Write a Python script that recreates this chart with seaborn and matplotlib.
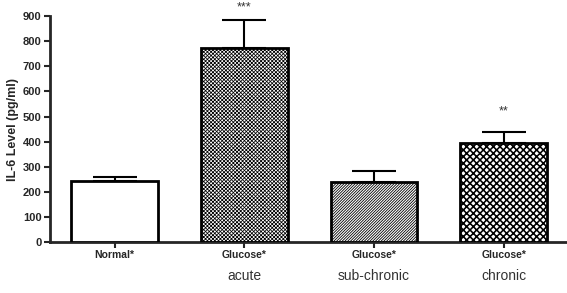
import pandas as pd
import seaborn as sns
import matplotlib.pyplot as plt
from matplotlib import transforms

groups = ["Normal*", "Glucose* ", "Glucose*  ", "Glucose*   "]
tick_labels = ["Normal*", "Glucose*", "Glucose*", "Glucose*"]
sub_labels = ["", "acute", "sub-chronic", "chronic"]
means = [243, 774, 239, 393]
errors = [16, 112, 45, 44]
stars = ["", "***", "", "**"]
hatches = ["", "x" * 9, "/" * 12, "xxxxx"]
hatch_widths = [1.0, 0.55, 0.6, 1.15]


def main():
    sns.set_style("ticks")
    plt.rcParams['font.family'] = ['Liberation Sans', 'DejaVu Sans']
    plt.rcParams['hatch.linewidth'] = 0.9

    df = pd.DataFrame({"group": groups, "mean": means})

    fig = plt.figure(figsize=(5.67, 2.93), dpi=100)
    ax = fig.add_axes([0.088, 0.174, 0.91, 0.771])

    sns.barplot(data=df, x="group", y="mean", color="white",
                edgecolor="black", linewidth=2, width=0.67,
                errorbar=None, ax=ax, zorder=3)
    for patch, h, hw in zip(ax.patches, hatches, hatch_widths):
        patch.set_facecolor("white")
        patch.set_hatch(h)
        if hasattr(patch, "set_hatch_linewidth"):
            patch.set_hatch_linewidth(hw)

    x = range(len(groups))
    ax.errorbar(x, means, yerr=[[0] * len(means), errors], fmt="none",
                ecolor="black", elinewidth=1.5, capsize=16, capthick=1.5,
                zorder=2)

    # significance stars above the error bars
    for i, s in enumerate(stars):
        if s:
            y = min(means[i] + errors[i] + 85, 935)
            ax.text(i, y, s, ha="center", va="center", fontsize=9,
                    color="#333333", clip_on=False)

    ax.set_xlim(-0.5, 3.48)
    ax.set_ylim(0, 900)
    ax.set_yticks(range(0, 901, 100))
    ax.set_xticks(list(x))
    ax.set_xticklabels(tick_labels, fontsize=7.5, fontweight="bold")
    for lab in ax.get_yticklabels():
        lab.set_fontweight("bold")
        lab.set_fontsize(8)
    ax.set_xlabel("")
    ax.set_ylabel("IL-6 Level (pg/ml)", fontsize=9, fontweight="bold",
                  labelpad=3)

    trans = transforms.blended_transform_factory(ax.transData, ax.transAxes)
    for i, s in enumerate(sub_labels):
        ax.text(i, -0.15, s, transform=trans, ha="center", va="center",
                fontsize=10, color="#333333")

    ax.tick_params(axis="both", width=1.5, length=4, pad=2)
    for side in ["left", "bottom"]:
        ax.spines[side].set_linewidth(2)
    sns.despine(ax=ax)

    fig.savefig("out.png", dpi=100)


if __name__ == '__main__':
    main()
